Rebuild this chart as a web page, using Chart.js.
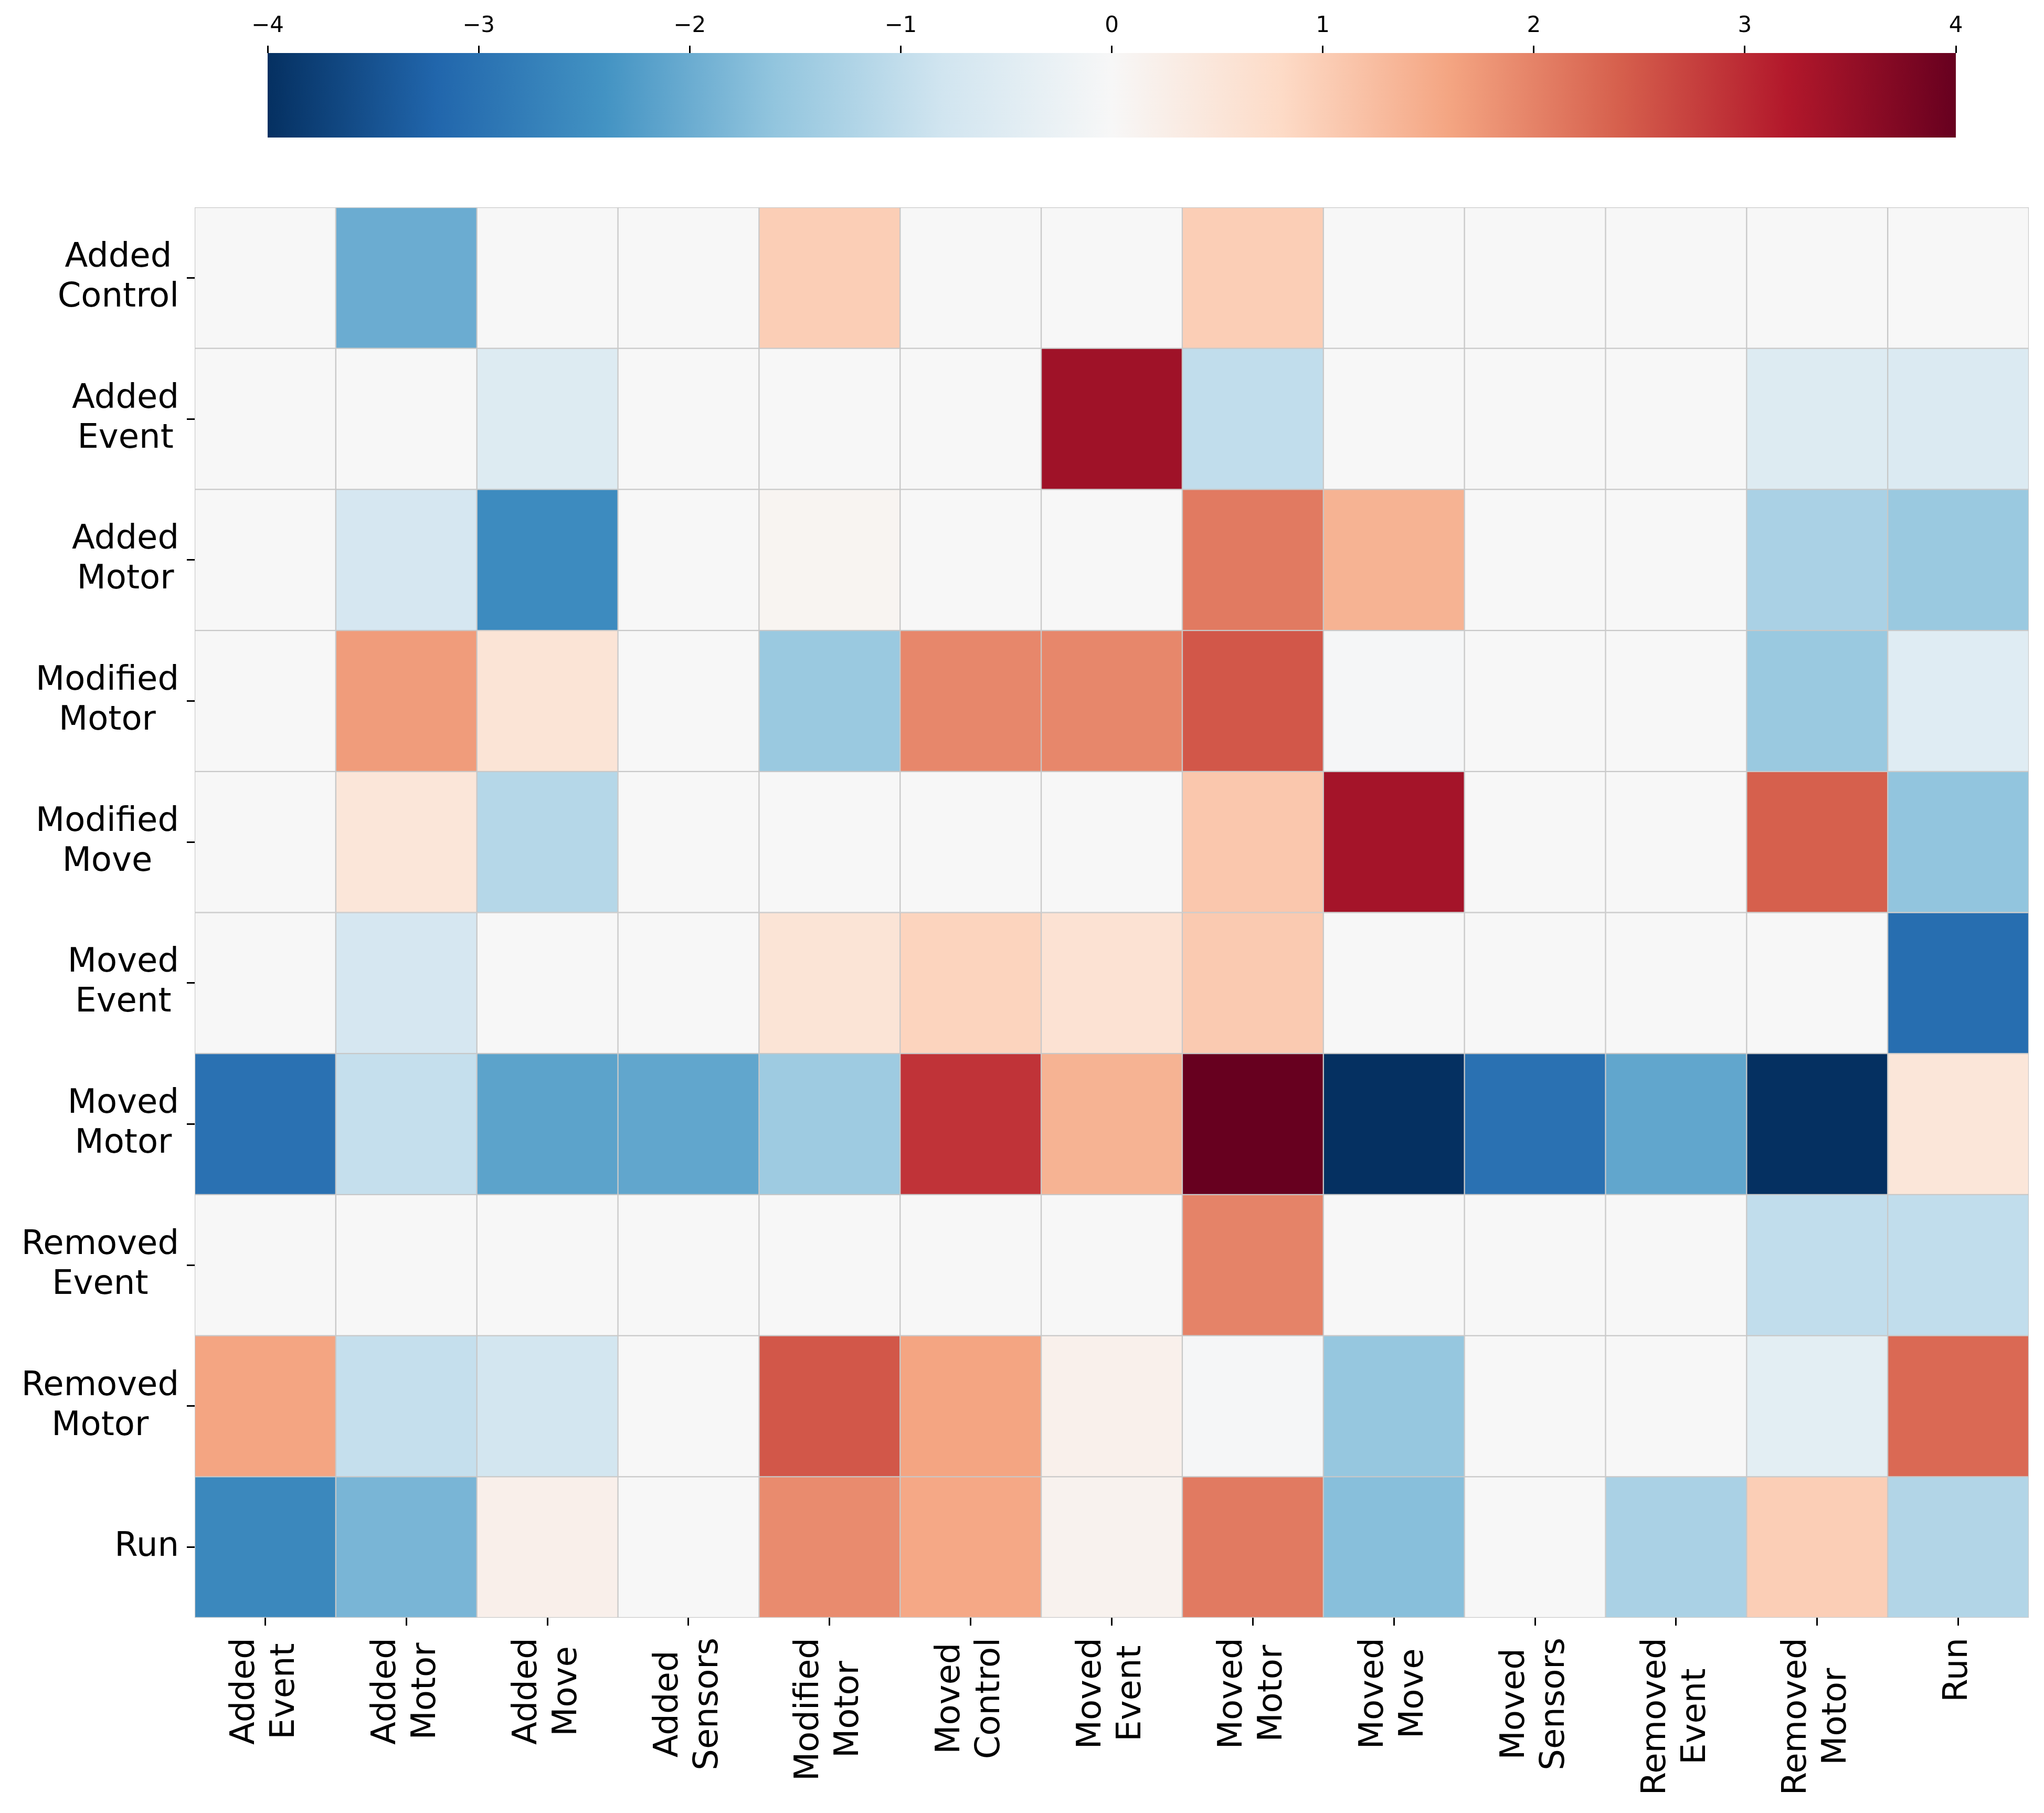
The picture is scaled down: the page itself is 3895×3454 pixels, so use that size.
<!DOCTYPE html>
<html>
<head>
<meta charset="utf-8">
<script src="https://cdn.jsdelivr.net/npm/chart.js@4.4.1/dist/chart.umd.min.js"></script>
<style>
html, body { margin: 0; padding: 0; background: #fff; }
#wrap { position: relative; width: 3895px; height: 3454px; }
#heat, #cbar { position: absolute; left: 0; top: 0; }
</style>
</head>
<body>
<div id="wrap">
  <canvas id="heat" width="3895" height="3454"></canvas>
  <canvas id="cbar" width="3895" height="300"></canvas>
</div>
<script>
// row / column names (split on the space into two lines)
var rowLabels = ["Added Control", "Added Event", "Added Motor", "Modified Motor", "Modified Move",
                 "Moved Event", "Moved Motor", "Removed Event", "Removed Motor", "Run"];
var colLabels = ["Added Event", "Added Motor", "Added Move", "Added Sensors", "Modified Motor",
                 "Moved Control", "Moved Event", "Moved Motor", "Moved Move", "Moved Sensors",
                 "Removed Event", "Removed Motor", "Run"];

// one array per row, one value per column
var addedControl  = [0, -2.0, 0, 0, 1.0, 0, 0, 1.0, 0, 0, 0, 0, 0];
var addedEvent    = [0, 0, -0.55, 0, 0, 0, 3.4, -1.0, 0, 0, 0, -0.55, -0.6];
var addedMotor    = [0, -0.7, -2.55, 0, 0.1, 0, 0, 2.1, 1.4, 0, 0, -1.3, -1.5];
var modifiedMotor = [0, 1.7, 0.55, 0, -1.5, 1.95, 1.95, 2.5, -0.05, 0, 0, -1.5, -0.5];
var modifiedMove  = [0, 0.5, -1.15, 0, 0, 0, 0, 1.1, 3.35, 0, 0, 2.4, -1.6];
var movedEvent    = [0, -0.7, 0, 0, 0.55, 0.9, 0.6, 1.05, 0, 0, 0, 0, -3.05];
var movedMotor    = [-3.0, -0.95, -2.15, -2.1, -1.45, 2.9, 1.4, 4.0, -4.0, -3.0, -2.1, -4.0, 0.5];
var removedEvent  = [0, 0, 0, 0, 0, 0, 0, 2.0, 0, 0, 0, -1.0, -1.0];
var removedMotor  = [1.6, -0.95, -0.75, 0, 2.5, 1.6, 0.2, -0.05, -1.55, 0, 0, -0.42, 2.3];
var run           = [-2.6, -1.85, 0.22, 0, 1.9, 1.55, 0.15, 2.1, -1.7, 0, -1.3, 1.0, -1.2];

var rows = [addedControl, addedEvent, addedMotor, modifiedMotor, modifiedMove,
            movedEvent, movedMotor, removedEvent, removedMotor, run];

var vmin = -4, vmax = 4;
var colorbarTicks = [-4, -3, -2, -1, 0, 1, 2, 3, 4];

// RdBu_r
var rdbuStops = ["#053061", "#2166ac", "#4393c3", "#92c5de", "#d1e5f0", "#f7f7f7",
                 "#fddbc7", "#f4a582", "#d6604d", "#b2182b", "#67001f"];

function hexToRgb(h){
    return [parseInt(h.substr(1, 2), 16), parseInt(h.substr(3, 2), 16), parseInt(h.substr(5, 2), 16)];
}

function cmap(v){
    var c = Math.min(Math.max(v, vmin), vmax);
    var t = (c - vmin) / (vmax - vmin) * (rdbuStops.length - 1);
    var i = Math.min(Math.floor(t), rdbuStops.length - 2);
    var f = t - i;
    var a = hexToRgb(rdbuStops[i]), b = hexToRgb(rdbuStops[i + 1]);
    return "rgb(" + Math.round(a[0] + (b[0] - a[0]) * f) + "," +
                    Math.round(a[1] + (b[1] - a[1]) * f) + "," +
                    Math.round(a[2] + (b[2] - a[2]) * f) + ")";
}

Chart.defaults.font.family = "'DejaVu Sans'";
Chart.defaults.color = "#000";

// each row is a set of floating bars spanning [r, r+1] on the y axis
var datasets = rows.map(function(vals, r){
    return {
        label: rowLabels[r],
        data: vals.map(function(){ return [r, r + 1]; }),
        backgroundColor: vals.map(cmap),
        borderColor: "#c8c8c8",
        borderWidth: 1.5,
        borderSkipped: false,
        grouped: false,
        barPercentage: 1,
        categoryPercentage: 1
    };
});

// tick labels: lines centred on each other like matplotlib
var tickLabels = {
    id: "tickLabels",
    afterDraw: function(chart){
        var ctx = chart.ctx;
        var area = chart.chartArea;
        var xs = chart.scales.x, ys = chart.scales.y;
        var lineH = 76;
        ctx.save();
        ctx.font = "64px 'DejaVu Sans'";
        ctx.fillStyle = "#000";
        ctx.textAlign = "center";
        ctx.textBaseline = "middle";

        rowLabels.forEach(function(lab, i){
            var lines = lab.split(" ");
            var w = Math.max.apply(null, lines.map(function(l){ return ctx.measureText(l).width; }));
            var cx = area.left - 30 - w / 2;
            var cy = ys.getPixelForValue(i + 0.5);
            lines.forEach(function(l, k){
                ctx.fillText(l, cx, cy + (k - (lines.length - 1) / 2) * lineH);
            });
        });

        colLabels.forEach(function(lab, j){
            var lines = lab.split(" ");
            var w = Math.max.apply(null, lines.map(function(l){ return ctx.measureText(l).width; }));
            ctx.save();
            ctx.translate(xs.getPixelForValue(j), area.bottom + 38);
            ctx.rotate(-Math.PI / 2);
            lines.forEach(function(l, k){
                ctx.fillText(l, -w / 2, (k - (lines.length - 1) / 2) * lineH);
            });
            ctx.restore();
        });
        ctx.restore();
    }
};

var heat = new Chart(document.getElementById("heat"), {
    type: "bar",
    data: { labels: colLabels, datasets: datasets },
    plugins: [tickLabels],
    options: {
        responsive: false,
        animation: false,
        devicePixelRatio: 1,
        layout: { padding: { left: 0, top: 395, right: 29, bottom: 0 } },
        plugins: { legend: { display: false }, tooltip: { enabled: false } },
        scales: {
            x: {
                type: "category",
                offset: true,
                ticks: { display: false },
                grid: { offset: false, drawOnChartArea: false, tickLength: 15, tickWidth: 3, tickColor: "#000" },
                border: { display: false },
                afterFit: function(s){ s.height = 372; }
            },
            y: {
                type: "linear",
                min: 0,
                max: rowLabels.length,
                reverse: true,
                afterBuildTicks: function(s){
                    s.ticks = rowLabels.map(function(_, i){ return { value: i + 0.5 }; });
                },
                ticks: { display: false },
                grid: { drawOnChartArea: false, tickLength: 15, tickWidth: 3, tickColor: "#000" },
                border: { display: false },
                afterFit: function(s){ s.width = 371; }
            }
        }
    }
});

// colour bar on top
var cbar = new Chart(document.getElementById("cbar"), {
    type: "bar",
    data: {
        labels: ["colorbar"],
        datasets: [{
            data: [[vmin, vmax]],
            backgroundColor: function(c){
                var area = c.chart.chartArea;
                if (!area) return rdbuStops[5];
                var g = c.chart.ctx.createLinearGradient(area.left, 0, area.right, 0);
                rdbuStops.forEach(function(col, i){ g.addColorStop(i / (rdbuStops.length - 1), col); });
                return g;
            },
            borderWidth: 0,
            barPercentage: 1,
            categoryPercentage: 1
        }]
    },
    options: {
        indexAxis: "y",
        responsive: false,
        animation: false,
        devicePixelRatio: 1,
        layout: { padding: { left: 510, right: 168, top: 0, bottom: 38 } },
        plugins: { legend: { display: false }, tooltip: { enabled: false } },
        scales: {
            x: {
                type: "linear",
                position: "top",
                min: vmin,
                max: vmax,
                afterBuildTicks: function(s){
                    s.ticks = colorbarTicks.map(function(v){ return { value: v }; });
                },
                ticks: {
                    font: { size: 42 },
                    color: "#000",
                    padding: 12,
                    maxRotation: 0,
                    callback: function(v){ return v < 0 ? "\u2212" + Math.abs(v) : String(v); }
                },
                grid: { drawOnChartArea: false, tickLength: 14, tickWidth: 3, tickColor: "#000" },
                border: { display: false },
                afterFit: function(s){ s.height = 101; }
            },
            y: { type: "category", display: false }
        }
    }
});
</script>
</body>
</html>
